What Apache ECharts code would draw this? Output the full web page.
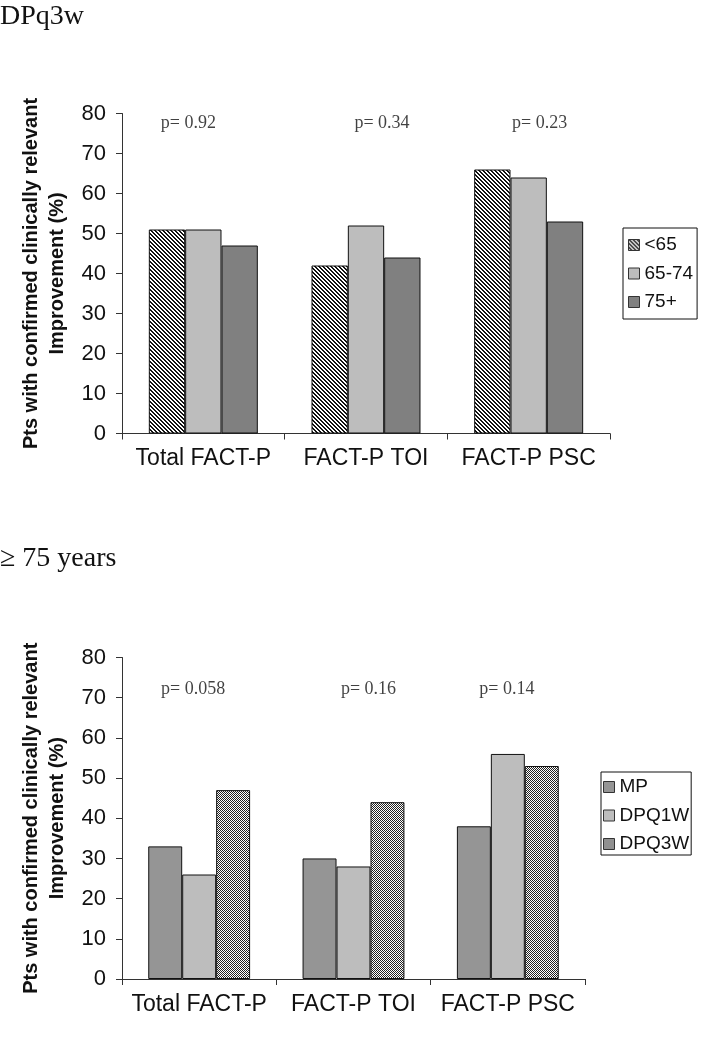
<!DOCTYPE html>
<html>
<head>
<meta charset="utf-8">
<script src="https://cdn.jsdelivr.net/npm/echarts@6/dist/echarts.min.js"></script>
<style>
html,body{margin:0;padding:0;background:#fff;}
#c{width:702px;height:1050px;}
</style>
</head>
<body>
<div id="c"></div>
<script>
// ---- data ----
const categories = ['Total FACT-P', 'FACT-P TOI', 'FACT-P PSC'];
const topSeriesNames = ['<65', '65-74', '75+'];
const topUnder65 = [51, 42, 66];
const top65to74 = [51, 52, 64];
const top75plus = [47, 44, 53];
const topPValues = ['p= 0.92', 'p= 0.34', 'p= 0.23'];

const botSeriesNames = ['MP', 'DPQ1W', 'DPQ3W'];
const botMP = [33, 30, 38];
const botDPQ1W = [26, 28, 56];
const botDPQ3W = [47, 44, 53];
const botPValues = ['p= 0.058', 'p= 0.16', 'p= 0.14'];

const yTicks = [0, 10, 20, 30, 40, 50, 60, 70, 80];

// ---- patterns ----
function hatchPattern() {
  const c = document.createElement('canvas');
  c.width = 4; c.height = 4;
  const g = c.getContext('2d');
  g.fillStyle = '#fff'; g.fillRect(0, 0, 4, 4);
  g.fillStyle = '#111';
  for (let i = 0; i < 4; i++) { g.fillRect(i, i, 1, 1); g.fillRect((i + 1) % 4, i, 1, 1); }
  return { image: c, repeat: 'repeat' };
}
function checkPattern() {
  const c = document.createElement('canvas');
  c.width = 2; c.height = 2;
  const g = c.getContext('2d');
  g.fillStyle = '#fff'; g.fillRect(0, 0, 2, 2);
  g.fillStyle = '#222';
  g.fillRect(0, 0, 1, 1); g.fillRect(1, 1, 1, 1);
  return { image: c, repeat: 'repeat' };
}

const sans = 'Liberation Sans, Arial, sans-serif';
const serif = 'Liberation Serif, Times New Roman, serif';

function barSeries(name, data, color, idx) {
  return {
    name: name, type: 'bar', data: data,
    xAxisIndex: idx, yAxisIndex: idx,
    barGap: '0%', barCategoryGap: idx === 0 ? '33%' : '34%',
    itemStyle: { color: color, borderColor: '#111', borderWidth: 1 },
    emphasis: { disabled: true }
  };
}
// label layout (annotation placement, not data)
const pLayout = [
  { y: 77.5, dx: [-15, 16, 11] },
  { y: 72, dx: [-6, 15, -1] }
];
function pSeries(labels, idx) {
  const L = pLayout[idx];
  return {
    type: 'scatter', xAxisIndex: idx, yAxisIndex: idx,
    symbolSize: 0, silent: true,
    data: categories.map((c, i) => ({ value: [c, L.y], label: { formatter: labels[i], offset: [L.dx[i], 0] } })),
    label: { show: true, position: 'inside', color: '#111', fontFamily: serif, fontSize: 18 }
  };
}
function xAx(idx) {
  return {
    type: 'category', gridIndex: idx, data: categories,
    axisLine: { lineStyle: { color: '#333', width: 1 } },
    axisTick: { show: true, length: 6, alignWithLabel: false, lineStyle: { color: '#333' } },
    axisLabel: { color: '#111', fontFamily: sans, fontSize: 23, margin: 14, interval: 0, hideOverlap: false }
  };
}
function yAx(idx) {
  return {
    type: 'value', gridIndex: idx, min: 0, max: 80, interval: 10,
    splitLine: { show: false },
    axisLine: { show: true, lineStyle: { color: '#333', width: 1 } },
    axisTick: { show: true, length: 6, lineStyle: { color: '#333' } },
    axisLabel: { color: '#111', fontFamily: sans, fontSize: 22, margin: 16,
      formatter: v => yTicks.indexOf(v) >= 0 ? String(v) : '' },
    name: 'Pts with confirmed clinically relevant\nImprovement (%)',
    nameLocation: 'middle', nameRotate: 90, nameGap: 51,
    nameTextStyle: { fontFamily: sans, fontWeight: 'bold', fontSize: 20, lineHeight: 26, color: '#111' }
  };
}
function legend(names, left, top, padding) {
  return {
    data: names, orient: 'vertical', left: left, top: top,
    itemWidth: 11, itemHeight: 11, itemGap: 8.5, icon: 'rect',
    borderColor: '#111', borderWidth: 1, padding: padding,
    textStyle: { fontFamily: sans, fontSize: 19, lineHeight: 20, color: '#111' },
    selectedMode: false,
    itemStyle: { borderColor: '#333', borderWidth: 1 }
  };
}

const chart = echarts.init(document.getElementById('c'), null, { renderer: 'canvas' });
chart.setOption({
  animation: false,
  backgroundColor: '#fff',
  title: [
    { text: 'DPq3w', left: 0, top: 3, padding: 0, textStyle: { fontFamily: serif, fontWeight: 'normal', fontSize: 28, color: '#111' } },
    { text: '\u2265 75 years', left: 0, top: 545, padding: 0, textStyle: { fontFamily: serif, fontWeight: 'normal', fontSize: 28, color: '#111' } }
  ],
  grid: [
    { left: 122, right: 92, top: 113.5, bottom: 616.5 },
    { left: 122, right: 117, top: 657.5, bottom: 71 }
  ],
  legend: [
    legend(topSeriesNames, 623, 228, [7, 4, 7, 5]),
    legend(botSeriesNames, 601, 772, [5, 2, 1, 2])
  ],
  xAxis: [xAx(0), xAx(1)],
  yAxis: [yAx(0), yAx(1)],
  series: [
    barSeries('<65', topUnder65, hatchPattern(), 0),
    barSeries('65-74', top65to74, '#bdbdbd', 0),
    barSeries('75+', top75plus, '#808080', 0),
    pSeries(topPValues, 0),
    barSeries('MP', botMP, '#959595', 1),
    barSeries('DPQ1W', botDPQ1W, '#bdbdbd', 1),
    barSeries('DPQ3W', botDPQ3W, checkPattern(), 1),
    pSeries(botPValues, 1)
  ]
});
</script>
</body>
</html>
